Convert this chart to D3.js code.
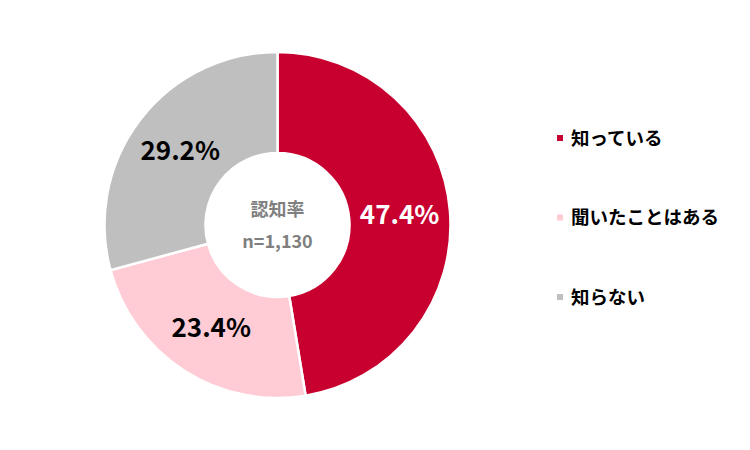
<!DOCTYPE html>
<html>
<head>
<meta charset="utf-8">
<script src="https://cdn.jsdelivr.net/npm/d3@7"></script>
<style>
  body { margin: 0; background: #fff; }
  svg { font-family: "Noto Sans CJK JP", "Noto Sans", sans-serif; }
</style>
</head>
<body>
<div id="chart"></div>
<script>
// chart data
const categories = ['知っている', '聞いたことはある', '知らない'];
const values = [47.4, 23.4, 29.2];
const colors = ['#C8002F', '#FFCCD5', '#BFBFBF'];
const labelColors = ['#ffffff', '#000000', '#000000'];
const centerTitle = '認知率';
const centerSub = 'n=1,130';

const width = 750, height = 450;
const cx = 277.5, cy = 225;
const rOuter = 173, rInner = 72;

const svg = d3.select('#chart').append('svg')
  .attr('width', width)
  .attr('height', height);

const g = svg.append('g')
  .attr('transform', `translate(${cx}, ${cy})`);

const pie = d3.pie().sort(null).value(d => d);
const arc = d3.arc().innerRadius(rInner).outerRadius(rOuter);
const arcs = pie(values);

g.selectAll('path.slice')
  .data(arcs)
  .enter().append('path')
  .attr('class', 'slice')
  .attr('d', arc)
  .attr('fill', (d, i) => colors[i])
  .attr('stroke', '#fff')
  .attr('stroke-width', 2.5);

g.selectAll('text.pct')
  .data(arcs)
  .enter().append('text')
  .attr('class', 'pct')
  .attr('transform', d => `translate(${arc.centroid(d)})`)
  .attr('text-anchor', 'middle')
  .attr('dy', '0.36em')
  .attr('font-size', 26)
  .attr('font-weight', 'bold')
  .attr('fill', (d, i) => labelColors[i])
  .text(d => d.data.toFixed(1) + '%');

// center text
g.append('text')
  .attr('text-anchor', 'middle')
  .attr('y', -15)
  .attr('dy', '0.36em')
  .attr('font-size', 18)
  .attr('font-weight', 'bold')
  .attr('fill', '#7F7F7F')
  .text(centerTitle);

g.append('text')
  .attr('text-anchor', 'middle')
  .attr('y', 17)
  .attr('dy', '0.36em')
  .attr('font-size', 18)
  .attr('font-weight', 'bold')
  .attr('fill', '#7F7F7F')
  .text(centerSub);

// legend
const legendY = d3.scalePoint().domain(categories).range([138, 297]);
const legend = svg.append('g').selectAll('g')
  .data(categories)
  .enter().append('g')
  .attr('transform', d => `translate(557, ${legendY(d)})`);

legend.append('rect')
  .attr('x', 0).attr('y', -3)
  .attr('width', 6).attr('height', 6)
  .attr('fill', (d, i) => colors[i]);

legend.append('text')
  .attr('x', 14)
  .attr('dy', '0.36em')
  .attr('font-size', 18.5)
  .attr('font-weight', 'bold')
  .attr('fill', '#000')
  .text(d => d);
</script>
</body>
</html>
